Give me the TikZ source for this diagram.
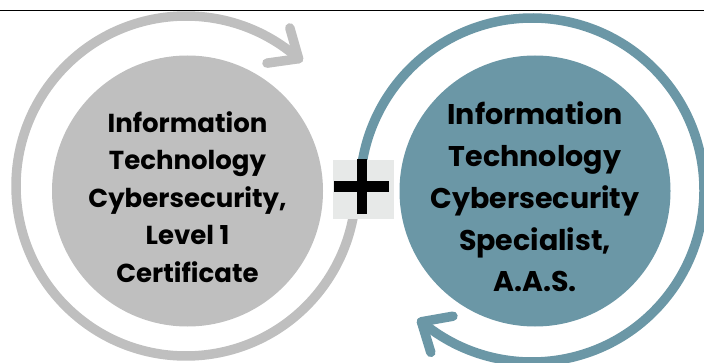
\documentclass[tikz,border=0pt]{standalone}
\usepackage{fontspec}
\setmainfont{Poppins}
\usepackage{tikz}
\usetikzlibrary{positioning}
\definecolor{certgray}{RGB}{191,191,191}
\definecolor{aasblue}{RGB}{107,151,166}
\definecolor{plusbg}{RGB}{231,233,232}
\tikzstyle{disc} = [circle, minimum size=271pt, inner sep=0pt]
\tikzstyle{ring} = [line width=9.5pt, line cap=round, line join=round]
\tikzstyle{certtext} = [align=center, font=\fontsize{26}{37.5}\selectfont\bfseries]
\tikzstyle{aastext} = [align=center, font=\fontsize{28.5}{41.7}\selectfont\bfseries]

\begin{document}
\begin{tikzpicture}[x=1pt, y=1pt]
\useasboundingbox (0,0) rectangle (704,362);

% Top rule
\coordinate (ruleL) at (0,351.5);
\coordinate (ruleR) at (704,351.5);
\draw[line width=1.8pt] (ruleL) -- (ruleR);

% Ring centres and arrow tips
\coordinate (ringL) at (186,176);
\coordinate (ringR) at (532,172);
\coordinate (tipL) at ([shift={(48.5:170pt)}]ringL);
\coordinate (tipR) at ([shift={(-130:172pt)}]ringR);

% Gray cycle
\draw[ring, certgray] (tipL) arc[start angle=48.5, end angle=360, radius=170pt];
\draw[ring, certgray] ([shift={(106:32pt)}]tipL) -- (tipL) -- ([shift={(188:32pt)}]tipL);

% Blue cycle
\draw[ring, aasblue] (tipR) arc[start angle=-130, end angle=180, radius=172pt];
\draw[ring, aasblue] ([shift={(10:32pt)}]tipR) -- (tipR) -- ([shift={(-73:32pt)}]tipR);

% Programs
\node (cert) [disc, fill=certgray] at (187.5,171) {};
\node (aas) [disc, fill=aasblue] at (535,171) {};
\node (certlbl) [certtext] at ([yshift=-6pt]cert.center) {Information\\Technology\\Cybersecurity,\\Level 1\\Certificate};
\node (aaslbl) [aastext] at ([yshift=-6pt]aas.center) {Information\\Technology\\Cybersecurity\\Specialist,\\A.A.S.};

% Plus
\node (plus) [fill=plusbg, minimum width=61pt, minimum height=59pt, inner sep=0pt] at (363.8,172.5) {};
\coordinate (plusc) at (361.8,175.3);
\draw[line width=11pt] ([xshift=-27.5pt]plusc) -- ([xshift=27.5pt]plusc);
\draw[line width=10pt] ([yshift=-27.5pt]plusc) -- ([yshift=27.5pt]plusc);
\end{tikzpicture}
\end{document}
